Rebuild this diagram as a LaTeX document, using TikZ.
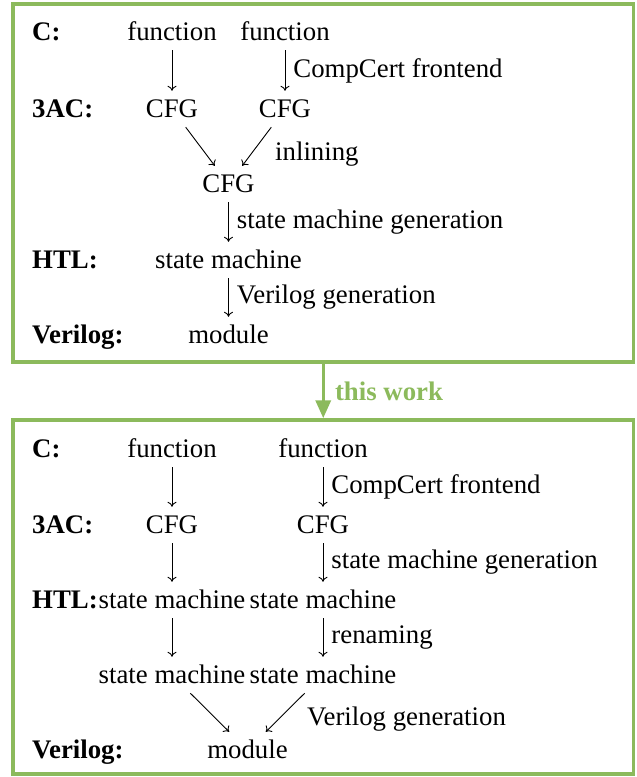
\documentclass[tikz,border=0pt]{standalone}
\usepackage{fontspec}
\setmainfont{Liberation Serif}
\usetikzlibrary{arrows.meta}
\definecolor{frame}{RGB}{140,186,92}
\begin{document}
\begin{tikzpicture}[x=1pt,y=-1pt,
  every node/.style={font=\fontsize{26.8}{32}\selectfont},
  term/.style={anchor=base, text height=18pt, text depth=2pt, inner xsep=0pt, inner ysep=8pt},
  lang/.style={anchor=base west, inner sep=0pt, font=\fontsize{26.8}{32}\selectfont\bfseries},
  flow/.style={-{To[length=5pt,width=9pt]}, line width=0.9pt},
  lab/.style={midway, anchor=west, inner xsep=8pt},
  free/.style={anchor=base west, inner sep=0pt},
  stage/.style={draw=frame, line width=3.5pt, inner sep=0pt},
  handoff/.style={draw=frame, line width=3.5pt, -{Triangle[length=18pt,width=15pt]}},
]
\useasboundingbox (0,0) rectangle (637,777);

% the two compilation flows
\node[stage, minimum width=620.5pt, minimum height=358pt] (top) at (323.25,183) {};
\node[stage, minimum width=620.5pt, minimum height=354pt] (bottom) at (323.25,597) {};

\draw[handoff] (top.south) -- node[midway, anchor=west, inner xsep=10pt,
  font=\fontsize{26.8}{32}\selectfont\bfseries, text=frame] (tw) {this work} (bottom.north);

% ---- original flow: inline first, then generate one state machine
\node[lang] (tc) at (32,40) {C:};
\node[term] (tf1) at (172,40) {function};
\node[term] (tf2) at (285,40) {function};
\node[lang] (ta) at (32,117) {3AC:};
\node[term] (tg1) at (172,117) {CFG};
\node[term] (tg2) at (285,117) {CFG};
\node[term] (tg3) at (228.5,192) {CFG};
\node[lang] (th) at (32,268) {HTL:};
\node[term] (ts) at (228.5,268) {state machine};
\node[lang] (tv) at (32,343) {Verilog:};
\node[term] (tm) at (228.5,343) {module};

\draw[flow] (tf1) -- (tg1);
\draw[flow] (tf2) -- node[lab] (tl1) {CompCert frontend} (tg2);
\draw[flow] (tg1) -- (tg3);
\draw[flow] (tg2) -- (tg3);
\node[free] (tl2) at (275,160) {inlining};
\draw[flow] (tg3) -- node[lab] (tl3) {state machine generation} (ts);
\draw[flow] (ts) -- node[lab] (tl4) {Verilog generation} (tm);

% ---- new flow: one state machine per function, linked at the end
\node[lang] (bc) at (32,457) {C:};
\node[term] (bf1) at (172,457) {function};
\node[term] (bf2) at (323,457) {function};
\node[lang] (ba) at (32,533) {3AC:};
\node[term] (bg1) at (172,533) {CFG};
\node[term] (bg2) at (323,533) {CFG};
\node[lang] (bh) at (32,608) {HTL:};
\node[term] (bs1) at (172,608) {state machine};
\node[term] (bs2) at (323,608) {state machine};
\node[term] (br1) at (172,683) {state machine};
\node[term] (br2) at (323,683) {state machine};
\node[lang] (bv) at (32,758) {Verilog:};
\node[term] (bm) at (247.5,758) {module};

\draw[flow] (bf1) -- (bg1);
\draw[flow] (bf2) -- node[lab] (bl1) {CompCert frontend} (bg2);
\draw[flow] (bg1) -- (bs1);
\draw[flow] (bg2) -- node[lab] (bl2) {state machine generation} (bs2);
\draw[flow] (bs1) -- (br1);
\draw[flow] (bs2) -- node[lab] (bl3) {renaming} (br2);
\draw[flow] (br1) -- (bm);
\draw[flow] (br2) -- (bm);
\node[free] (bl4) at (307,725) {Verilog generation};
\end{tikzpicture}
\end{document}
